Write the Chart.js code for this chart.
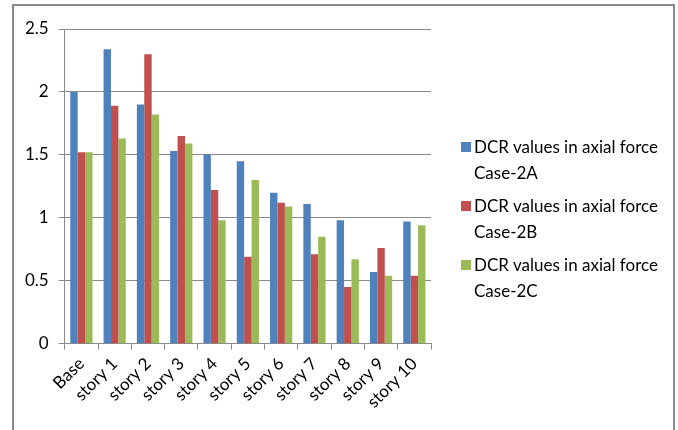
<!DOCTYPE html>
<html>
<head>
<meta charset="utf-8">
<script src="https://cdn.jsdelivr.net/npm/chart.js@4/dist/chart.umd.min.js"></script>
<style>
  html, body { margin: 0; padding: 0; background: #fff; }
  #wrap { position: relative; width: 678px; height: 430px; overflow: hidden; }
  #c { position: absolute; left: 0; top: 0; }
  #legend { position: absolute; left: 461px; top: 0; font-family: Lato, "Open Sans", sans-serif; font-size: 17px; color: #000; }
  .item { position: absolute; left: 0; white-space: nowrap; }
  .box { position: absolute; left: 0; width: 10px; height: 10px; }
  .txt { position: absolute; left: 13px; line-height: 25.6px; }
</style>
</head>
<body>
<div id="wrap"><canvas id="c" width="678" height="430"></canvas><div id="legend"></div></div>
<script>
const categories = ['Base', 'story 1', 'story 2', 'story 3', 'story 4', 'story 5', 'story 6', 'story 7', 'story 8', 'story 9', 'story 10'];
const seriesNames = ['DCR values in axial force Case-2A', 'DCR values in axial force Case-2B', 'DCR values in axial force Case-2C'];
const case2A = [2.00, 2.34, 1.90, 1.53, 1.50, 1.45, 1.20, 1.11, 0.98, 0.57, 0.97];
const case2B = [1.52, 1.89, 2.30, 1.65, 1.22, 0.69, 1.12, 0.71, 0.45, 0.76, 0.54];
const case2C = [1.52, 1.63, 1.82, 1.59, 0.98, 1.30, 1.09, 0.85, 0.67, 0.54, 0.94];
const yTicks = [0, 0.5, 1, 1.5, 2, 2.5];

const colors = ['#4F81BD', '#C0504D', '#9BBB59'];
const FONT = 'Lato, "Open Sans", sans-serif';

const borderPlugin = {
  id: 'outerBorder',
  beforeDraw(chart) {
    const ctx = chart.ctx;
    ctx.save();
    ctx.fillStyle = '#fff';
    ctx.fillRect(0, 0, chart.width, chart.height);
    ctx.strokeStyle = '#8a8a8a';
    ctx.lineWidth = 2;
    ctx.strokeRect(13, 5, 661, 500);
    ctx.restore();
  }
};

const chart = new Chart(document.getElementById('c'), {
  type: 'bar',
  data: {
    labels: categories,
    datasets: [
      { label: seriesNames[0], data: case2A, backgroundColor: colors[0] },
      { label: seriesNames[1], data: case2B, backgroundColor: colors[1] },
      { label: seriesNames[2], data: case2C, backgroundColor: colors[2] }
    ]
  },
  options: {
    responsive: false,
    animation: false,
    layout: { padding: { left: 15, top: 29, right: 247, bottom: 14 } },
    datasets: { bar: { categoryPercentage: 0.667, barPercentage: 1.0 } },
    plugins: {
      tooltip: { enabled: false },
      legend: { display: false }
    },
    scales: {
      x: {
        offset: true,
        grid: {
          offset: true,
          drawOnChartArea: false,
          drawTicks: true,
          tickLength: 6,
          color: '#8a8a8a'
        },
        border: { color: '#8a8a8a', width: 1 },
        ticks: {
          color: '#000',
          font: { family: FONT, size: 17 },
          minRotation: 45,
          maxRotation: 45,
          padding: 4
        }
      },
      y: {
        min: 0,
        max: 2.5,
        afterBuildTicks(axis) { axis.ticks = yTicks.map(v => ({ value: v })); },
        grid: {
          color: '#8a8a8a',
          drawTicks: true,
          tickLength: 6
        },
        border: { color: '#8a8a8a', width: 1 },
        ticks: {
          color: '#000',
          font: { family: FONT, size: 17 },
          padding: 10,
          callback: v => String(v)
        }
      }
    }
  },
  plugins: [borderPlugin]
});

// Legend built from the chart's own datasets
const legend = document.getElementById('legend');
chart.data.datasets.forEach((ds, i) => {
  const parts = ds.label.split(' Case-');
  const item = document.createElement('div');
  item.className = 'item';
  item.style.top = (142 + 59 * i) + 'px';
  const box = document.createElement('div');
  box.className = 'box';
  box.style.background = ds.backgroundColor;
  const txt = document.createElement('div');
  txt.className = 'txt';
  txt.style.top = '-7.8px';
  txt.innerHTML = parts[0] + '<br>Case-' + parts[1];
  item.appendChild(box);
  item.appendChild(txt);
  legend.appendChild(item);
});
</script>
</body>
</html>
